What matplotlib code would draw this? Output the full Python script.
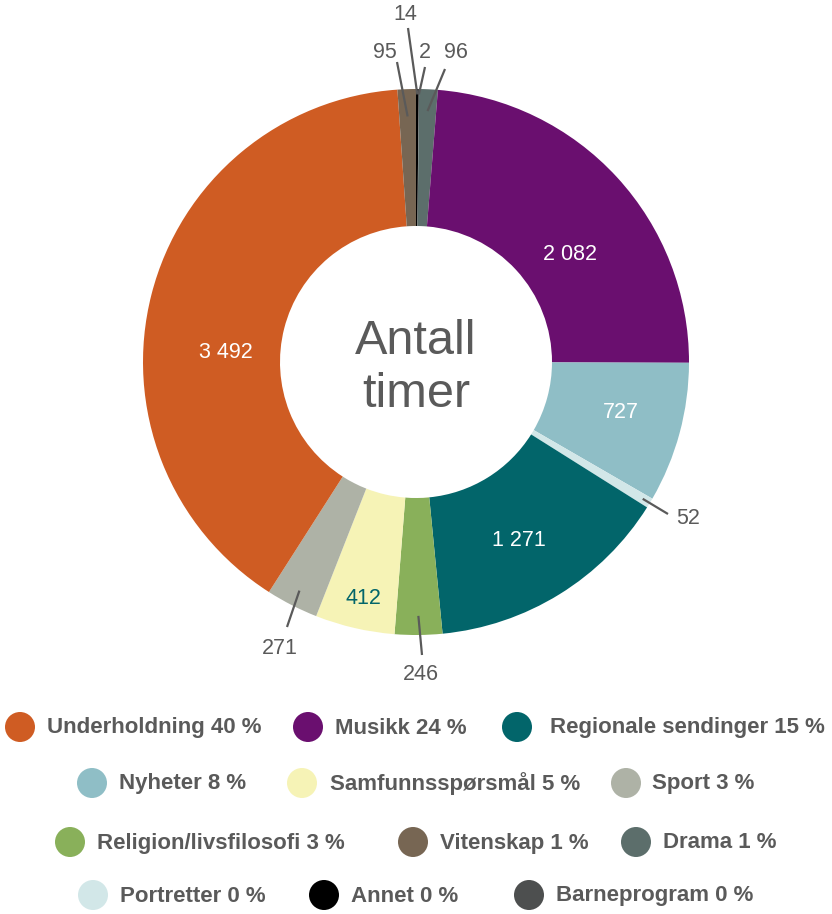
import matplotlib
matplotlib.use("Agg")
import matplotlib.pyplot as plt
from matplotlib.patches import Circle
import numpy as np

# ---- data (pie order, clockwise from top) ----
categories = ["Annet", "Barneprogram", "Drama", "Musikk", "Nyheter", "Portretter",
              "Regionale sendinger", "Religion/livsfilosofi", "Samfunnsspørsmål",
              "Sport", "Underholdning", "Vitenskap"]
hours = [14, 2, 96, 2082, 727, 52, 1271, 246, 412, 271, 3492, 95]
colors = ["#000000", "#4d4f4f", "#5c6e6b", "#6a0f6f", "#8fbec6", "#d2e7e8",
          "#02656a", "#89b05a", "#f6f3b6", "#aeb2a6", "#cf5c23", "#776653"]
legend_order = ["Underholdning", "Musikk", "Regionale sendinger", "Nyheter",
                "Samfunnsspørsmål", "Sport", "Religion/livsfilosofi", "Vitenskap",
                "Drama", "Portretter", "Annet", "Barneprogram"]
legend_pct = [40, 24, 15, 8, 5, 3, 3, 1, 1, 0, 0, 0]
center_title = "Antall\ntimer"

# ---- layout ----
W, H = 832, 914
plt.rcParams['font.family'] = ['Liberation Sans', 'DejaVu Sans']
GRAY = "#5a5a5a"
fig = plt.figure(figsize=(W / 100, H / 100), dpi=100)
ax = fig.add_axes([0, 0, 1, 1])
ax.set_xlim(0, W)
ax.set_ylim(H, 0)
ax.set_aspect('equal')
ax.axis('off')

cx, cy, R = 416, 362, 273
inner = 136
# counterclock=True in an inverted-y axis draws clockwise on screen
wedges, _ = ax.pie(hours, colors=colors, radius=R, center=(cx, cy),
                   startangle=-90, counterclock=True,
                   wedgeprops=dict(width=R - inner, linewidth=0))
ax.set_xlim(0, W)
ax.set_ylim(H, 0)

ax.text(cx, cy + 6, center_title, ha='center', va='center', fontsize=35,
        color=GRAY, linespacing=1.25)

def fmt(v):
    return f"{v:,}".replace(",", " ")

total = sum(hours)
cum = np.cumsum([0] + hours)
mid_ang = {c: (cum[i] + hours[i] / 2) / total * 360 for i, c in enumerate(categories)}

def polar(ang, r):
    a = np.deg2rad(ang)
    return cx + r * np.sin(a), cy - r * np.cos(a)

LBL = 15.5
# inside labels: (x, y, color)
inside = {
    "Musikk": (570, 255, "white"),
    "Underholdning": (226, 352, "white"),
    "Nyheter": (621, 413, "white"),
    "Regionale sendinger": (519, 541, "white"),
    "Samfunnsspørsmål": (363, 598, "#02656a"),
}
for c, (x, y, col) in inside.items():
    v = hours[categories.index(c)]
    ax.text(x, y, fmt(v), ha='center', va='center', fontsize=LBL, color=col)

# outside labels: (line start r, line end xy, label xy)
outside = {
    "Vitenskap": (0.90, (397, 62), (385, 52)),
    "Annet": (0.98, (408, 28), (405, 15)),
    "Barneprogram": (0.98, (425, 67), (425, 52)),
    "Drama": (0.92, (445, 69), (456, 52)),
    "Portretter": (0.97, (668, 514), (688, 519)),
    "Sport": (0.94, (287, 627), (280, 648)),
    "Religion/livsfilosofi": (0.93, (422, 655), (421, 675)),
}
for c, (rs, (ex, ey), (lx, ly)) in outside.items():
    sx, sy = polar(mid_ang[c], rs * R)
    ax.plot([sx, ex], [sy, ey], color=GRAY, lw=1.6, solid_capstyle='butt')
    v = hours[categories.index(c)]
    ax.text(lx, ly, fmt(v), ha='center', va='center', fontsize=LBL, color=GRAY)

# legend
legend_pos = [
    (20, 727, 47), (308, 727, 335), (517, 727, 550),
    (92, 783, 119), (302, 783, 330), (626, 783, 652),
    (70, 842, 97), (413, 842, 440), (636, 842, 663),
    (93, 895, 120), (324, 895, 351), (529, 895, 556),
]
for name, pct, (ccx, ccy, tx) in zip(legend_order, legend_pct, legend_pos):
    i = categories.index(name)
    ax.add_patch(Circle((ccx, ccy), 15, color=colors[i], lw=0))
    ax.text(tx, ccy + 1, f"{name} {pct} %", ha='left', va='center',
            fontsize=16, fontweight='bold', color=GRAY)

fig.savefig("out.png", dpi=100)
